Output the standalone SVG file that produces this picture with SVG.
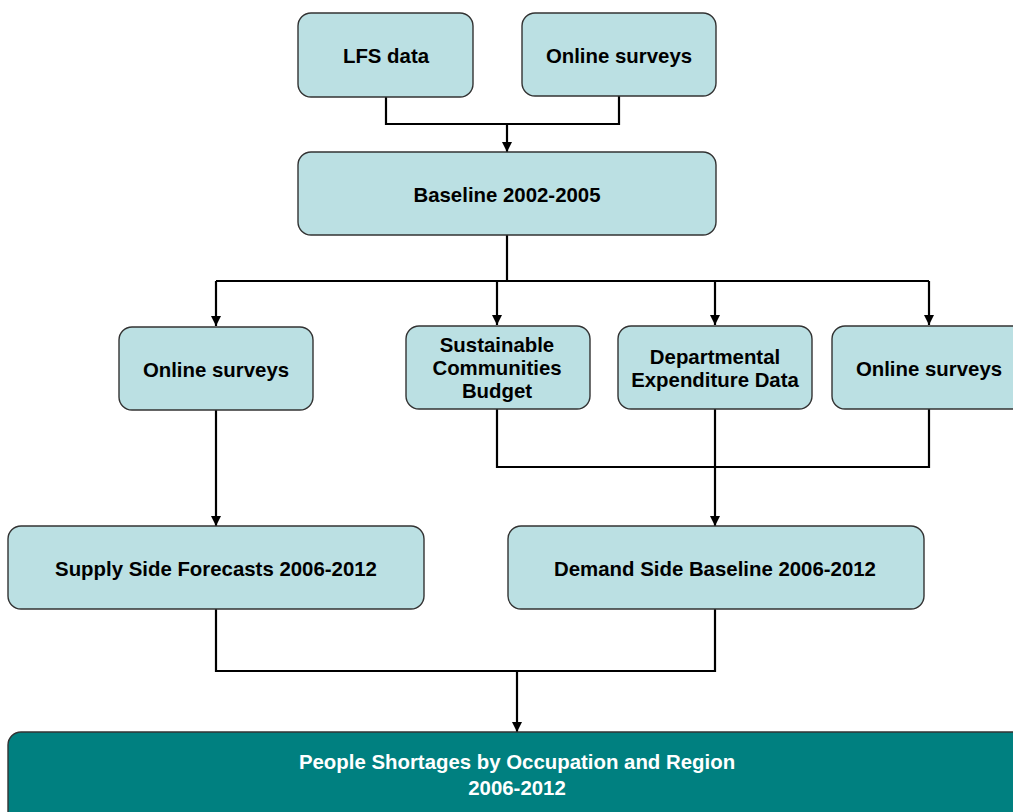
<svg xmlns="http://www.w3.org/2000/svg" width="1013" height="812" viewBox="0 0 1013 812">
  <defs>
    <marker id="arrow" viewBox="0 0 10 10" refX="10" refY="5" markerWidth="10" markerHeight="10" markerUnits="userSpaceOnUse" orient="auto">
      <path d="M0,0 L10,5 L0,10 Z" fill="#000"/>
    </marker>
    <style>
      .box { fill: #bbe0e3; stroke: #333; stroke-width: 1.4; }
      .final { fill: #008080; stroke: #333; stroke-width: 1.4; }
      .label { font-family: "Liberation Sans", Arial, sans-serif; font-weight: bold; font-size: 20.4px; fill: #000; text-anchor: middle; }
      .label-light { font-family: "Liberation Sans", Arial, sans-serif; font-weight: bold; font-size: 20.4px; fill: #fff; text-anchor: middle; }
      .line { fill: none; stroke: #000; stroke-width: 2.2; }
      .arrowed { fill: none; stroke: #000; stroke-width: 2.2; marker-end: url(#arrow); }
    </style>
  </defs>

  <rect width="1013" height="812" fill="#fff"/>

  <!-- connectors -->
  <g id="connectors">
    <path class="line" d="M386,97 V124 H619 V96"/>
    <path class="arrowed" d="M507,124 V152"/>
    <path class="line" d="M507,235 V281"/>
    <path class="line" d="M216,281 H929"/>
    <path class="arrowed" d="M216,281 V326"/>
    <path class="arrowed" d="M497,281 V325"/>
    <path class="arrowed" d="M715,281 V325"/>
    <path class="arrowed" d="M929,281 V325"/>
    <path class="arrowed" d="M216,410 V526"/>
    <path class="line" d="M497,409 V467 H929 V409"/>
    <path class="arrowed" d="M715,409 V526"/>
    <path class="line" d="M216,609 V671 H715 V609"/>
    <path class="arrowed" d="M517,671 V732"/>
  </g>

  <g id="lfs-data">
    <rect class="box" x="298" y="13" width="175" height="84" rx="13"/>
    <text class="label" x="386" y="63">LFS data</text>
  </g>

  <g id="online-surveys-top">
    <rect class="box" x="522" y="13" width="194" height="83" rx="13"/>
    <text class="label" x="619" y="63">Online surveys</text>
  </g>

  <g id="baseline">
    <rect class="box" x="298" y="152" width="418" height="83" rx="13"/>
    <text class="label" x="507" y="202">Baseline 2002-2005</text>
  </g>

  <g id="online-surveys-left">
    <rect class="box" x="119" y="327" width="194" height="83" rx="13"/>
    <text class="label" x="216" y="377">Online surveys</text>
  </g>

  <g id="sustainable-communities">
    <rect class="box" x="406" y="326" width="184" height="83" rx="13"/>
    <text class="label" x="497" y="352">Sustainable</text>
    <text class="label" x="497" y="375">Communities</text>
    <text class="label" x="497" y="398">Budget</text>
  </g>

  <g id="departmental-expenditure">
    <rect class="box" x="618" y="326" width="194" height="83" rx="13"/>
    <text class="label" x="715" y="364">Departmental</text>
    <text class="label" x="715" y="387">Expenditure Data</text>
  </g>

  <g id="online-surveys-right">
    <rect class="box" x="832" y="326" width="194" height="83" rx="13"/>
    <text class="label" x="929" y="376">Online surveys</text>
  </g>

  <g id="supply-side">
    <rect class="box" x="8" y="526" width="416" height="83" rx="13"/>
    <text class="label" x="216" y="576">Supply Side Forecasts 2006-2012</text>
  </g>

  <g id="demand-side">
    <rect class="box" x="508" y="526" width="416" height="83" rx="13"/>
    <text class="label" x="715" y="576">Demand Side Baseline 2006-2012</text>
  </g>

  <g id="people-shortages">
    <rect class="final" x="8" y="732" width="1030" height="100" rx="13"/>
    <text class="label-light" x="517" y="769">People Shortages by Occupation and Region</text>
    <text class="label-light" x="517" y="795">2006-2012</text>
  </g>
</svg>
